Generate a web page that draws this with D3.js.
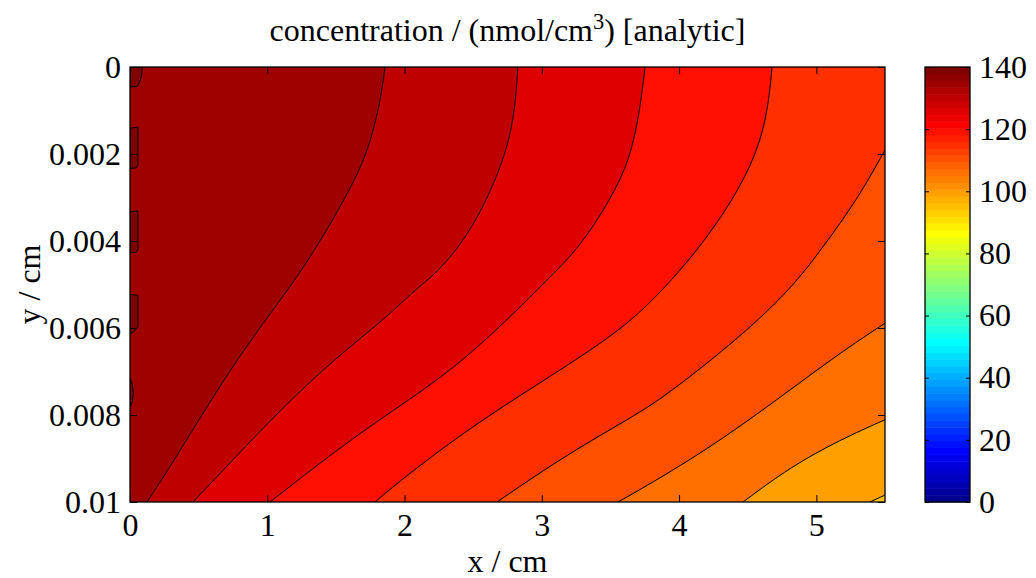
<!DOCTYPE html>
<html><head><meta charset="utf-8">
<script src="https://cdn.jsdelivr.net/npm/d3@7"></script>
<style>body{margin:0;background:#fff}svg{display:block}text{font-family:"Liberation Serif","Times New Roman",serif;fill:#000}</style>
</head><body>
<svg id="c" width="1036" height="578"></svg>
<script>
// ---- data ----
const xTicks = [0,1,2,3,4,5];
const yTicks = [0,0.002,0.004,0.006,0.008,0.01];
const yTickLabels = ["0","0.002","0.004","0.006","0.008","0.01"];
const cTicks = [0,20,40,60,80,100,120,140];
const levels = [135,130,125,120,115,110,105,100];
const line135 = [[1.858,0],[1.821,0.00087],[1.727,0.00202],[1.581,0.00294],[1.384,0.00402],[1.187,0.00497],[0.969,0.00589],[0.728,0.00697],[0.488,0.00818],[0.291,0.0092],[0.124,0.01]];
const line130 = [[2.826,0],[2.805,0.00099],[2.746,0.00191],[2.623,0.0029],[2.455,0.00391],[2.236,0.00474],[2.054,0.00518],[1.872,0.00575],[1.479,0.00674],[1.093,0.00789],[0.75,0.00903],[0.459,0.01]];
const line125 = [[3.752,0],[3.715,0.00099],[3.642,0.00214],[3.497,0.00306],[3.278,0.00414],[3.038,0.0049],[2.768,0.00575],[2.455,0.00667],[2.113,0.00749],[1.625,0.00851],[1.02,0.01]];
const line120 = [[4.677,0],[4.648,0.00099],[4.568,0.00198],[4.393,0.00306],[4.152,0.00414],[3.934,0.00494],[3.715,0.00566],[3.424,0.00638],[2.936,0.00736],[2.455,0.00834],[1.967,0.00951],[1.785,0.01]];
const line115 = [[5.5,0.00191],[5.296,0.00306],[5.048,0.00414],[4.823,0.00508],[4.444,0.00621],[3.956,0.00743],[3.715,0.00795],[3.184,0.0089],[2.674,0.01]];
const line110 = [[5.5,0.00589],[5.172,0.00657],[4.684,0.00772],[4.203,0.0088],[3.715,0.00972],[3.555,0.01]];
const line105 = [[5.5,0.00811],[5.172,0.00857],[4.808,0.0092],[4.466,0.01]];
const line100 = [[5.5,0.00984],[5.39,0.01]];
const contourLines = [line135,line130,line125,line120,line115,line110,line105,line100];
// small closed level-140 patches along the left edge
const blobA = [[0,0],[0.09,0],[0.085,0.0002],[0.07,0.00035],[0.053,0.00045],[0,0.00046]];
const blobB = [[0,0.00141],[0.058,0.00138],[0.058,0.00225],[0.045,0.00232],[0,0.00233]];
const blobC = [[0,0.00333],[0.058,0.00331],[0.058,0.0042],[0.045,0.00426],[0,0.00427]];
const blobD = [[0,0.00523],[0.058,0.00525],[0.058,0.00597],[0.03,0.00608],[0,0.00614]];
const blobE = [[0,0.00716],[0.018,0.0073],[0.024,0.0075],[0.018,0.0077],[0,0.00781]];
const blobs = [blobA,blobB,blobC,blobD,blobE];
const blobLevel = 140;

// ---- jet(64) colormap ----
function jet64(){
  const n=16,u=[];
  for(let k=1;k<=n;k++)u.push(k/n);
  for(let k=1;k<n;k++)u.push(1);
  for(let k=n;k>=1;k--)u.push(k/n);
  const out=[];
  for(let j=1;j<=64;j++){
    const r=(j>=25)?(u[j-25]??0):0;
    const g=(j>=9&&j<=55)?u[j-9]:0;
    const b=(j<=39)?u[j+7]:0;
    out.push(d3.rgb(Math.round(r*255),Math.round(g*255),Math.round(b*255)).formatHex());
  }
  return out;
}
const cmap = jet64();
const cmin=0,cmax=140;
const colorOf = v => cmap[Math.max(0,Math.min(63,Math.floor((v-cmin)/(cmax-cmin)*64)))];

// ---- layout ----
const svg = d3.select("#c");
const L=130,R=885,T=67,B=502;
const x = d3.scaleLinear().domain([0,5.5]).range([L,R]);
const y = d3.scaleLinear().domain([0,0.01]).range([T,B]);
const FS = 32;

svg.append("defs").append("clipPath").attr("id","pc")
  .append("rect").attr("x",L).attr("y",T).attr("width",R-L).attr("height",B-T);
const plot = svg.append("g").attr("clip-path","url(#pc)");

plot.append("rect").attr("x",L).attr("y",T).attr("width",R-L).attr("height",B-T)
  .attr("fill",colorOf(levels[0]));

const lineGen = d3.line().x(d=>x(d[0])).y(d=>y(d[1])).curve(d3.curveBasis);
contourLines.forEach((pts,i)=>{
  let p = lineGen(pts);
  p += `L${x(5.5)},${y(0.01)}`;
  if (pts[0][1]===0) p += `L${x(5.5)},${y(0)}`;
  p += "Z";
  plot.append("path").attr("d",p).attr("fill",colorOf(levels[i]-5)).attr("stroke","none");
});
contourLines.forEach(pts=>{
  plot.append("path").attr("d",lineGen(pts)).attr("fill","none").attr("stroke","#000").attr("stroke-width",1);
});
const blobGen = d3.line().x(d=>x(d[0])).y(d=>y(d[1])).curve(d3.curveLinear);
blobs.forEach(pts=>{
  plot.append("path").attr("d",blobGen(pts)+"Z").attr("fill",colorOf(blobLevel)).attr("stroke","#000").attr("stroke-width",1);
});

// ---- axes ----
const TK=7;
const gx = svg.append("g").attr("transform",`translate(0,${B})`)
  .call(d3.axisBottom(x).tickValues(xTicks).tickSizeInner(-TK).tickSizeOuter(0).tickPadding(11).tickFormat(d3.format("d")));
const gxt = svg.append("g").attr("transform",`translate(0,${T})`)
  .call(d3.axisTop(x).tickValues(xTicks).tickSizeInner(-TK).tickSizeOuter(0).tickFormat(""));
const gy = svg.append("g").attr("transform",`translate(${L},0)`)
  .call(d3.axisLeft(y).tickValues(yTicks).tickSizeInner(-TK).tickSizeOuter(0).tickPadding(9).tickFormat((d,i)=>yTickLabels[i]));
const gyr = svg.append("g").attr("transform",`translate(${R},0)`)
  .call(d3.axisRight(y).tickValues(yTicks).tickSizeInner(-TK).tickSizeOuter(0).tickFormat(""));
[gx,gxt,gy,gyr].forEach(g=>{
  g.select(".domain").remove();
  g.selectAll(".tick line").attr("stroke","#000").attr("stroke-width",1);
  g.selectAll("text").attr("font-size",FS).attr("font-family",null);
});
svg.append("rect").attr("x",L).attr("y",T).attr("width",R-L).attr("height",B-T)
  .attr("fill","none").attr("stroke","#000").attr("stroke-width",1.3);

// ---- colorbar ----
const CL=925, CR=970;
const cy = d3.scaleLinear().domain([cmin,cmax]).range([B,T]);
const cbar = svg.append("g");
cmap.forEach((col,i)=>{
  const v0=cmin+(cmax-cmin)*i/64, v1=cmin+(cmax-cmin)*(i+1)/64;
  cbar.append("rect").attr("x",CL).attr("width",CR-CL).attr("y",cy(v1)).attr("height",cy(v0)-cy(v1)+0.5).attr("fill",col);
});
const gc = svg.append("g").attr("transform",`translate(${CR},0)`)
  .call(d3.axisRight(cy).tickValues(cTicks).tickSizeInner(-4).tickSizeOuter(0).tickPadding(9));
const gcl = svg.append("g").attr("transform",`translate(${CL},0)`)
  .call(d3.axisLeft(cy).tickValues(cTicks).tickSizeInner(-4).tickSizeOuter(0).tickFormat(""));
[gc,gcl].forEach(g=>{
  g.select(".domain").remove();
  g.selectAll(".tick line").attr("stroke","#000").attr("stroke-width",1);
  g.selectAll("text").attr("font-size",FS).attr("font-family",null);
});
svg.append("rect").attr("x",CL).attr("y",T).attr("width",CR-CL).attr("height",B-T)
  .attr("fill","none").attr("stroke","#000").attr("stroke-width",1.3);

// ---- labels ----
const title = svg.append("text").attr("x",(L+R)/2).attr("y",41).attr("text-anchor","middle").attr("font-size",FS);
title.append("tspan").text("concentration / (nmol/cm");
title.append("tspan").attr("font-size",FS*0.7).attr("dy",-12).text("3");
title.append("tspan").attr("dy",12).text(") [analytic]");
svg.append("text").attr("x",(L+R)/2).attr("y",571.5).attr("text-anchor","middle").attr("font-size",FS).text("x / cm");
svg.append("text").attr("transform",`translate(40,${(T+B)/2}) rotate(-90)`).attr("text-anchor","middle").attr("font-size",FS).text("y / cm");
</script>
</body></html>
